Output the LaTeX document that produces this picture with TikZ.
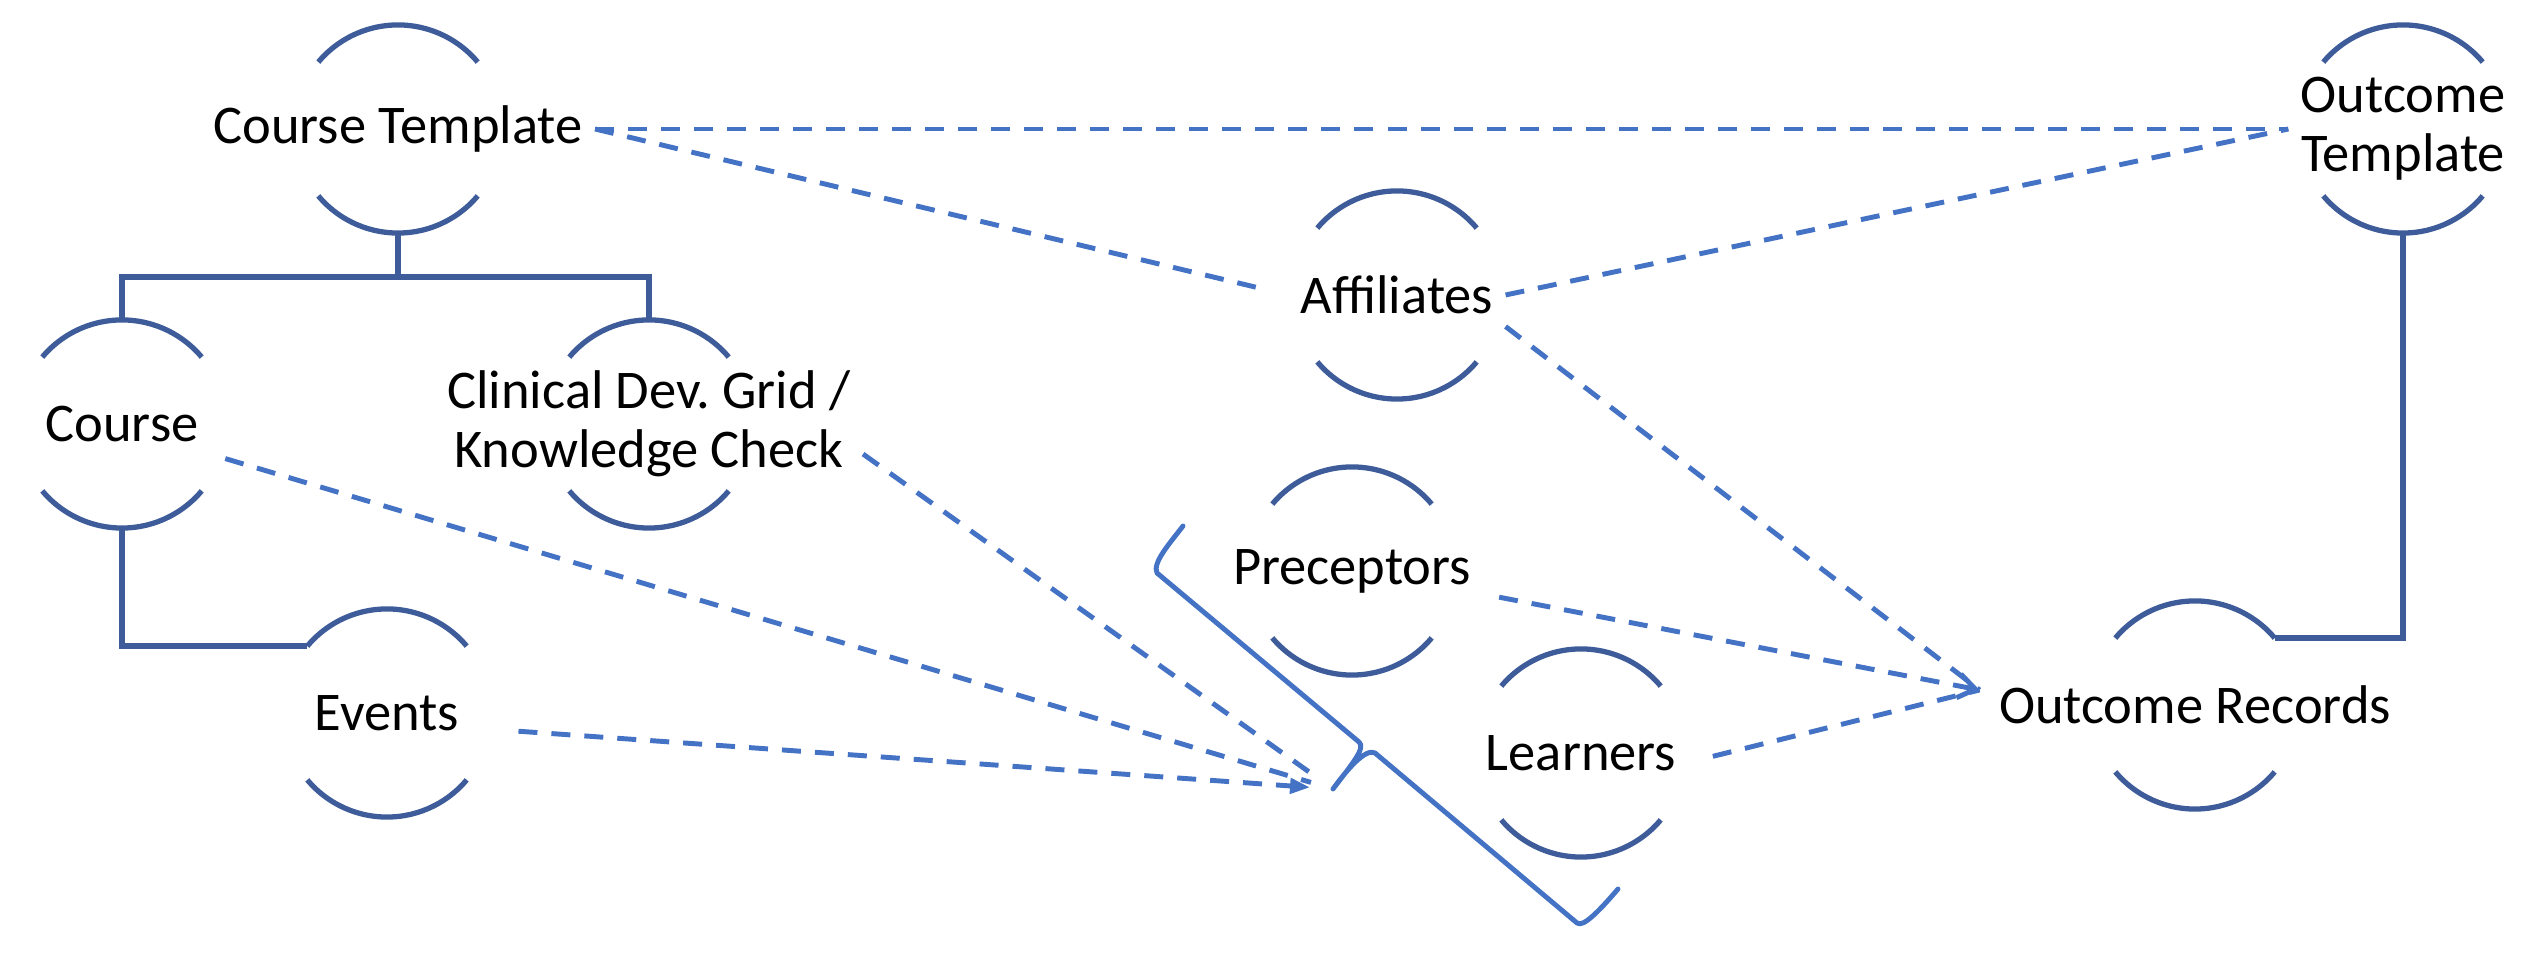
\documentclass[tikz,border=0pt]{standalone}
\usepackage{fontspec}
\setmainfont{Carlito}
\usetikzlibrary{arrows.meta}
\definecolor{ringblue}{RGB}{62,92,154}
\definecolor{linkblue}{RGB}{68,114,196}
\begin{document}
\frenchspacing
\begin{tikzpicture}[x=0.01cm, y=-0.01cm,
	lbl/.style={font=\fontsize{15.5}{16.8}\selectfont, align=center},
	ring/.style={ringblue, line width=1.5pt},
	stem/.style={ringblue, line width=1.5pt},
	link/.style={linkblue, line width=1.4pt, dash pattern=on 0.19cm off 0.14cm},
	brace/.style={linkblue, line width=1.4pt, line join=round, line cap=round}]
\useasboundingbox (0, 0) rectangle (2548, 962);

\foreach \n/\x/\y/\text in {
	tmpl/398/129/Course Template,
	course/122/424/Course,
	grid/649/424/{Clinical Dev. Grid /\\Knowledge Check},
	events/387/713/Events,
	affil/1397/295/Affiliates,
	precep/1352/571/Preceptors,
	learn/1581/753/Learners,
	records/2195/705/Outcome Records,
	otmpl/2403/129/{Outcome\\Template}}
\node[lbl] (\n) at (\x, \y) {\text};

\foreach \n in {tmpl,course,grid,events,affil,precep,learn,records,otmpl} {
\draw[ring] (\n.center) ++(40:1.04cm) arc[start angle=40, end angle=140, radius=1.04cm];
\draw[ring] (\n.center) ++(220:1.04cm) arc[start angle=220, end angle=320, radius=1.04cm];
}

\draw[stem] ([yshift=-1.04cm]tmpl.center) -- ++(0, 44) -| ([yshift=1.04cm]course.center);
\draw[stem] ([yshift=-1.04cm]tmpl.center) -- ++(0, 44) -| ([yshift=1.04cm]grid.center);
\draw[stem] ([yshift=-1.04cm]course.center) |- ([shift={(140:1.04cm)}]events.center);
\draw[stem] ([yshift=-1.04cm]otmpl.center) |- ([shift={(40:1.04cm)}]records.center);

\coordinate (grp) at (1333, 789);
\coordinate (orin) at ([shift={(-0.07cm, 0.15cm)}]records.west);

\draw[brace] (1183, 526) .. controls (1170, 543) and (1152, 563) .. (1157, 573)
	-- (1359, 742) .. controls (1366, 748) and (1352, 764) .. (grp)
	.. controls (1348, 768) and (1366, 748) .. (1375, 753)
	-- (1577, 923) .. controls (1583, 928) and (1600, 910) .. (1618, 889);

\draw[link] (tmpl.east) -- (tmpl.east -| otmpl.west);
\draw[link, shorten >=0.33cm] (tmpl.east) -- (affil.west);
\draw[link] (affil.east) -- (otmpl.west);
\draw[link] (affil.south east) -- (orin);
\draw[link, shorten <=0.16cm, -{Straight Barb[length=0.17cm, width=0.24cm]}] (precep.-10) -- (orin);
\draw[link, shorten <=0.25cm] (learn.-5) -- (orin);
\draw[link, shorten <=0.15cm, shorten >=0.23cm] (course.south east) -- (grp);
\draw[link, shorten >=0.23cm] (grid.-8) -- (grp);
\draw[link, shorten <=0.47cm, shorten >=0.23cm, -{Triangle[length=0.2cm, width=0.15cm]}] (events.-10) -- (grp);

\end{tikzpicture}
\end{document}
